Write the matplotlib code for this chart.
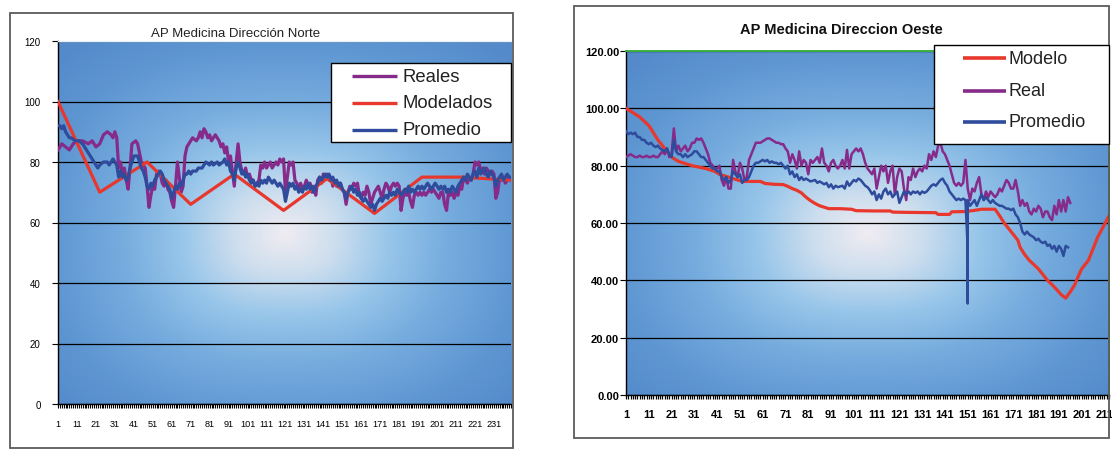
import matplotlib
matplotlib.use("Agg")
import matplotlib.pyplot as plt
import numpy as np
from matplotlib.colors import LinearSegmentedColormap
from matplotlib.lines import Line2D
from matplotlib.patches import Rectangle

plt.rcParams["font.family"] = ["Liberation Sans", "DejaVu Sans"]

W, H = 1112, 452

# ---- Norte: sample index -> value ----
norte_real_x = [
    1, 3, 5, 7, 9, 11, 14, 17, 19, 21, 23, 25, 27, 29, 30, 31, 32, 33, 34, 35,
    36, 37, 38, 39, 40, 42, 43, 44, 45, 46, 47, 48, 49, 50, 51, 52, 53, 54, 55, 56,
    57, 58, 59, 60, 61, 62, 63, 64, 65, 66, 67, 68, 69, 70, 71, 72, 74, 75, 76, 77,
    78, 79, 80, 81, 82, 83, 84, 85, 86, 87, 88, 89, 90, 91, 92, 93, 94, 95, 96, 97,
    98, 99, 100, 101, 102, 103, 104, 105, 106, 107, 108, 109, 110, 111, 112, 113, 114, 115, 116, 117,
    118, 119, 120, 121, 122, 123, 124, 125, 126, 127, 128, 129, 130, 131, 132, 133, 134, 135, 136, 137,
    138, 139, 140, 141, 142, 143, 144, 145, 146, 147, 148, 149, 150, 151, 152, 153, 154, 155, 156, 157,
    158, 159, 160, 161, 162, 163, 164, 165, 166, 167, 168, 169, 170, 171, 172, 173, 174, 175, 176, 177,
    178, 179, 180, 181, 182, 183, 184, 185, 186, 187, 188, 189, 190, 191, 192, 193, 194, 195, 196, 197,
    198, 199, 200, 201, 202, 203, 204, 205, 206, 207, 208, 209, 210, 211, 212, 213, 214, 215, 216, 217,
    218, 219, 220, 221, 222, 223, 224, 225, 226, 227, 228, 229, 230, 231, 232, 233, 234, 235, 236, 237,
    238, 239, 240,
]
norte_real = [
    84, 86, 85, 84, 86, 87, 87, 86, 87, 85, 86, 89, 90, 89, 88, 90, 88, 78, 80, 76,
    78, 74, 71, 78, 86, 87, 86, 83, 80, 79, 78, 72, 65, 69, 72, 71, 76, 77, 76, 73,
    72, 74, 71, 70, 67, 65, 72, 80, 75, 70, 72, 82, 85, 86, 87, 88, 87, 88, 90, 88,
    91, 90, 88, 89, 87, 88, 89, 88, 87, 85, 86, 83, 85, 80, 82, 77, 72, 80, 86, 80,
    77, 76, 78, 75, 76, 74, 74, 72, 73, 74, 79, 78, 80, 78, 79, 80, 78, 79, 80, 79,
    81, 80, 81, 70, 75, 80, 79, 80, 74, 73, 71, 73, 71, 72, 74, 72, 73, 70, 72, 69,
    74, 75, 73, 76, 75, 76, 74, 75, 72, 74, 72, 73, 73, 71, 70, 66, 70, 72, 71, 73,
    72, 73, 69, 68, 70, 69, 72, 70, 66, 68, 70, 71, 72, 70, 68, 71, 73, 72, 70, 72,
    73, 72, 73, 72, 64, 68, 70, 69, 70, 67, 65, 69, 70, 69, 70, 69, 70, 69, 70, 71,
    70, 71, 70, 69, 68, 70, 70, 66, 64, 70, 69, 70, 68, 70, 69, 72, 71, 75, 74, 73,
    75, 74, 76, 80, 79, 80, 77, 78, 76, 78, 77, 76, 77, 76, 68, 70, 75, 74, 75, 73,
    74, 75, 74,
]

norte_model_x = [1, 23, 48, 71, 94, 120, 143, 168, 193, 214, 240]
norte_model = [100, 70, 80, 66, 76, 64, 74.5, 63, 75, 75, 74]

norte_prom_x = [
    1, 2, 3, 4, 5, 6, 7, 8, 10, 12, 14, 16, 18, 20, 21, 22, 23, 25, 27, 28,
    29, 30, 31, 32, 33, 34, 35, 36, 37, 38, 39, 40, 41, 42, 43, 44, 45, 46, 47, 48,
    49, 50, 51, 52, 53, 54, 55, 56, 57, 58, 59, 60, 61, 62, 63, 64, 65, 66, 67, 68,
    69, 70, 71, 72, 74, 75, 77, 78, 79, 81, 82, 83, 85, 86, 88, 89, 90, 91, 92, 93,
    94, 95, 96, 97, 98, 99, 100, 101, 102, 103, 104, 105, 106, 107, 108, 109, 110, 111, 112, 113,
    114, 115, 116, 117, 118, 119, 120, 121, 122, 123, 124, 125, 126, 127, 128, 129, 130, 131, 132, 133,
    134, 135, 136, 137, 138, 139, 140, 141, 142, 143, 144, 145, 146, 147, 148, 149, 150, 151, 152, 153,
    154, 155, 156, 157, 158, 159, 160, 161, 162, 163, 164, 165, 166, 167, 168, 169, 170, 171, 172, 173,
    174, 175, 176, 177, 178, 179, 180, 181, 182, 183, 184, 185, 186, 187, 188, 189, 190, 191, 192, 193,
    194, 195, 196, 197, 198, 199, 200, 201, 202, 203, 204, 205, 206, 207, 208, 209, 210, 211, 212, 213,
    214, 215, 216, 217, 218, 219, 220, 221, 222, 223, 224, 225, 226, 227, 228, 229, 230, 231, 232, 233,
    234, 235, 236, 237, 238, 239, 240,
]
norte_prom = [
    92, 92, 91, 92, 90, 89, 88, 88, 87, 87, 86, 84, 82, 80, 79, 78, 79, 80, 80, 79,
    80, 81, 80, 79, 75, 77, 75, 76, 74, 75, 78, 80, 82, 82, 82, 80, 78, 77, 75, 72,
    71, 73, 72, 74, 75, 76, 77, 76, 74, 73, 72, 71, 68, 70, 72, 71, 73, 72, 74, 76,
    76, 77, 76, 77, 77, 78, 78, 79, 80, 79, 80, 79, 80, 79, 80, 81, 79, 80, 77, 76,
    74, 78, 80, 78, 76, 77, 75, 76, 74, 73, 74, 72, 73, 72, 74, 73, 74, 73, 75, 74,
    73, 74, 73, 72, 73, 72, 71, 67, 70, 73, 72, 73, 71, 72, 70, 71, 70, 72, 71, 73,
    71, 72, 70, 72, 73, 75, 74, 75, 76, 75, 76, 74, 75, 73, 74, 72, 73, 71, 70, 68,
    70, 71, 72, 70, 71, 69, 70, 68, 67, 68, 67, 66, 65, 66, 64, 66, 67, 68, 67, 68,
    69, 68, 70, 69, 70, 69, 71, 70, 69, 70, 71, 70, 72, 70, 71, 70, 71, 72, 71, 72,
    71, 72, 73, 72, 71, 72, 73, 72, 71, 72, 71, 72, 70, 71, 70, 72, 71, 70, 72, 73,
    74, 75, 74, 76, 75, 74, 76, 77, 75, 78, 76, 77, 78, 76, 75, 77, 76, 75, 72, 74,
    75, 76, 74, 75, 76, 75, 75,
]

# ---- Oeste ----
oeste_model_x = [
    1, 3, 5, 7, 9, 11, 13, 15, 17, 19, 21, 22, 24, 26, 28, 30, 33, 36, 38, 40,
    42, 44, 46, 48, 50, 52, 56, 60, 62, 66, 70, 72, 74, 76, 78, 80, 82, 84, 86, 88,
    90, 95, 100, 102, 110, 117, 118, 125, 137, 138, 143, 144, 150, 154, 157, 163, 165, 167, 169, 171,
    173, 174, 176, 178, 180, 182, 184, 186, 188, 190, 192, 194, 196, 198, 199, 201, 203, 204, 205, 207,
    208, 210, 212, 213,
]
oeste_model = [
    100, 99, 98, 97, 95.5, 94, 91.5, 89, 87, 85, 83, 82.5, 81.5, 81, 80.5, 80, 79.5, 79, 78.5, 78,
    77, 76.5, 76, 75.5, 75, 74.5, 74.5, 74.5, 73.8, 73.5, 73.4, 72.8, 72, 71.4, 70.5, 69, 67.8, 66.8, 66, 65.5,
    65, 65, 64.8, 64.3, 64.2, 64.2, 63.8, 63.7, 63.6, 63, 63, 63.9, 64, 64.4, 64.8, 64.8, 62.5, 60, 58, 56,
    54, 51.5, 49, 47, 45.5, 44, 42, 40, 38.5, 36.8, 35, 33.8, 36, 38.5, 40.5, 44, 46, 47, 49, 53,
    55, 58, 61, 62.5,
]

oeste_real_x = list(range(1, 197))
oeste_real = [
    83, 83.5, 84, 83.5, 83, 83, 83.5, 83, 83, 83.5, 83, 83, 83.5, 83, 83, 84, 85, 84, 86, 83,
    84, 93, 85, 87, 85, 86, 87, 85, 86, 88, 88, 89.5, 89, 89.5, 88, 86, 84, 81, 80, 79,
    79, 80, 75, 73, 76, 72, 72, 82, 78, 76, 81, 79, 75, 76, 82, 84, 86, 88, 88, 88,
    88.5, 89, 89.5, 89.5, 89, 88.5, 88, 88, 87.5, 87.5, 86, 85, 81, 84, 82, 79, 85, 80, 82, 81,
    77, 82, 81, 82, 83, 81, 86, 81, 80, 78, 81, 82, 80, 79, 80, 82, 79, 85.5, 79, 84,
    85, 86, 85, 86, 84, 81, 79, 78, 77, 79, 72, 76, 80, 78, 80, 74, 78, 80, 70, 76,
    79, 78, 72, 68, 76, 75, 79, 76, 78, 79, 78, 80, 79, 84, 82, 85, 83, 87, 88, 85,
    84, 82, 80, 77, 74, 73, 74, 73, 74, 82, 72, 68, 72, 71, 74, 76, 70, 68, 71, 69,
    71, 70, 69, 70, 72, 71, 73, 75, 74, 72, 72, 75, 71, 66, 68, 66, 67, 64, 63, 65,
    64, 66, 65, 62, 64, 64, 62, 61, 66, 63, 68, 64, 68, 64, 69, 67,
]

oeste_prom_x = [
    1, 2, 3, 4, 5, 6, 7, 8, 9, 10, 11, 12, 13, 14, 15, 16, 17, 18, 19, 20,
    21, 22, 23, 24, 25, 26, 27, 28, 29, 30, 31, 32, 33, 34, 35, 36, 37, 38, 39, 40,
    41, 42, 43, 44, 45, 46, 47, 48, 49, 50, 51, 52, 53, 54, 55, 56, 57, 58, 59, 60,
    61, 62, 63, 64, 65, 66, 67, 68, 69, 70, 71, 72, 73, 74, 75, 76, 77, 78, 79, 80,
    82, 84, 85, 86, 88, 89, 90, 91, 92, 93, 94, 96, 97, 98, 99, 100, 101, 102, 103, 104,
    105, 106, 107, 108, 109, 110, 111, 112, 113, 114, 115, 116, 117, 118, 119, 120, 121, 122, 123, 124,
    125, 126, 127, 128, 129, 130, 131, 132, 133, 134, 135, 136, 137, 138, 139, 140, 141, 142, 143, 144,
    145, 146, 147, 148, 149, 150, 151, 151, 151, 151, 152, 153, 154, 155, 156, 157, 158, 159, 160, 161,
    162, 163, 164, 165, 166, 167, 168, 169, 170, 171, 172, 173, 174, 175, 176, 177, 178, 179, 180, 181,
    182, 183, 184, 185, 186, 187, 188, 189, 190, 191, 192, 193, 194, 195,
]
oeste_prom = [
    92, 91, 91.5, 91, 91.5, 90, 90, 89, 89, 88, 87.5, 88, 87, 86.5, 87, 86, 85.5, 85, 86, 84,
    83, 89, 85, 84, 84, 83, 84, 83, 83.5, 84, 85, 85, 84, 83, 83, 82, 81, 80, 79, 79,
    78, 78, 76, 75, 76, 74, 75, 78, 77, 76, 77, 74, 75, 75, 76, 78, 80, 81, 81, 81.5,
    82, 81.5, 82, 81, 81.5, 81, 81, 80.5, 81, 80, 79, 80, 77, 78, 76, 77, 75, 76, 75, 75.5,
    74.5, 75, 74, 74.5, 73.5, 74, 72.5, 73.5, 72, 73, 72.5, 73, 72, 74.5, 73, 74, 75, 74.5, 75.5, 75,
    74, 73, 72.5, 71.5, 70, 71, 68, 70, 68.5, 71, 72, 70, 71, 69, 70, 71, 67, 69, 71, 70,
    71, 70, 71, 70.5, 71, 70, 71, 70.5, 71, 72, 73, 73.5, 73, 74, 75, 75.5, 74, 73, 71, 70,
    69, 68, 68.5, 68, 68.5, 68, 51, 32, 51, 68, 66, 67, 68, 66, 68, 70, 68, 69, 68, 67,
    68, 67, 66.5, 66, 66, 65.5, 65, 65, 64.5, 65, 63, 62, 60, 57, 56, 57, 56, 55.5, 55, 54,
    54.5, 53.5, 53, 53.5, 52, 52.5, 51, 52, 50, 52, 51, 48.5, 52, 51.5,
]

PURPLE = "#862b8a"
RED = "#e8372c"
BLUE = "#2e4b9c"
GREEN = "#3cb043"

bg_cmap = LinearSegmentedColormap.from_list("bg", [
    (0.00, (240 / 255, 236 / 255, 242 / 255)),
    (0.17, (205 / 255, 222 / 255, 238 / 255)),
    (0.35, (152 / 255, 198 / 255, 234 / 255)),
    (0.55, (118 / 255, 172 / 255, 222 / 255)),
    (0.80, (94 / 255, 150 / 255, 210 / 255)),
    (1.00, (84 / 255, 138 / 255, 202 / 255)),
])


def box(l, t, r, b):
    return [l / W, 1 - b / H, (r - l) / W, (b - t) / H]


def gradient(ax, cx=0.5, cy=0.47):
    X, Y = np.meshgrid(np.linspace(0, 1, 400), np.linspace(0, 1, 300))
    p = 2.5
    r = ((np.abs(X - cx) / 0.5) ** p + (np.abs(Y - cy) / 0.5) ** p) ** (1 / p)
    ax.imshow(r, cmap=bg_cmap, vmin=0, vmax=1.3, extent=[0, 1, 0, 1], origin="lower",
              transform=ax.transAxes, aspect="auto", zorder=0, interpolation="bilinear")


def frame(fig, l, t, r, b):
    fig.add_artist(Rectangle((l / W, 1 - b / H), (r - l) / W, (b - t) / H,
                             transform=fig.transFigure, facecolor="none",
                             edgecolor="#5a5a5a", lw=1.3, zorder=0.5))


def legend(fig, l, t, r, b, rows, hx0, hx1, tx, fs, lw, weight="normal"):
    fig.add_artist(Rectangle((l / W, 1 - b / H), (r - l) / W, (b - t) / H,
                             transform=fig.transFigure, facecolor="white",
                             edgecolor="black", lw=1.0, zorder=5))
    for label, color, y in rows:
        fig.add_artist(Line2D([hx0 / W, hx1 / W], [1 - y / H, 1 - y / H],
                              transform=fig.transFigure, color=color, lw=lw,
                              solid_capstyle="butt", zorder=6))
        fig.text(tx / W, 1 - y / H, label, fontsize=fs, va="center", ha="left",
                 color="#222222", zorder=6, weight=weight)


fig = plt.figure(figsize=(W / 100, H / 100), dpi=100)
fig.patch.set_facecolor("white")

# ---------- left: Norte ----------
frame(fig, 10, 14, 513, 449)
ax1 = fig.add_axes(box(58, 42, 511, 405))
gradient(ax1)
ax1.plot(norte_real_x, norte_real, color=PURPLE, lw=2.3, zorder=3)
ax1.plot(norte_model_x, norte_model, color=RED, lw=2.3, zorder=3)
ax1.plot(norte_prom_x, norte_prom, color=BLUE, lw=2.3, zorder=3)
ax1.set_xlim(1, 240)
ax1.set_ylim(0, 120)
ax1.set_yticks(range(0, 121, 20))
ax1.set_xticks(range(1, 232, 10))
ax1.set_xticks(range(1, 241), minor=True)
ax1.yaxis.grid(True, color="black", lw=0.9)
ax1.tick_params(axis="y", length=4, width=0.8, pad=8.5, labelsize=7)
ax1.tick_params(axis="x", which="both", length=3, width=0.8, pad=8, labelsize=6.6)
for s in ("left", "bottom"):
    ax1.spines[s].set_color("black")
    ax1.spines[s].set_linewidth(1.0)
ax1.spines["right"].set_visible(False)
ax1.spines["top"].set_color("#e8f0f8")
ax1.spines["top"].set_linestyle((0, (1, 1)))
ax1.spines["top"].set_linewidth(1.0)
fig.text(236 / W, 1 - 34 / H, "AP Medicina Dirección Norte", fontsize=9.5,
         ha="center", va="center", color="#222222")
legend(fig, 331, 64, 511, 143,
       [("Reales", PURPLE, 77), ("Modelados", RED, 104), ("Promedio", BLUE, 131)],
       352, 397, 403, 13.3, 2.4)

# ---------- right: Oeste ----------
frame(fig, 574, 7, 1109, 439)
ax2 = fig.add_axes(box(626, 52, 1109, 396))
gradient(ax2)
ax2.plot(oeste_model_x, oeste_model, color=RED, lw=2.3, zorder=3)
ax2.plot(oeste_real_x, oeste_real, color=PURPLE, lw=1.8, zorder=3)
ax2.plot(oeste_prom_x, oeste_prom, color=BLUE, lw=1.8, zorder=3)
ax2.set_xlim(1, 213)
ax2.set_ylim(0, 120)
ax2.set_yticks(range(0, 121, 20))
ax2.set_yticklabels([f"{v:.2f}" for v in range(0, 121, 20)])
ax2.set_xticks(range(1, 212, 10))
ax2.set_xticks(range(1, 214), minor=True)
ax2.yaxis.grid(True, color="black", lw=0.9)
ax2.tick_params(axis="y", length=4, width=0.8, pad=1, labelsize=8)
ax2.tick_params(axis="x", which="both", length=3, width=0.9, pad=7, labelsize=8)
for lab in ax2.get_xticklabels() + ax2.get_yticklabels():
    lab.set_fontweight("bold")
for s in ("left", "bottom"):
    ax2.spines[s].set_color("black")
    ax2.spines[s].set_linewidth(1.0)
for s in ("top", "right"):
    ax2.spines[s].set_color(GREEN)
    ax2.spines[s].set_linewidth(1.4)
fig.text(841 / W, 1 - 30 / H, "AP Medicina Direccion Oeste", fontsize=10.5,
         ha="center", va="center", weight="bold", color="#111111")
legend(fig, 934, 46, 1109, 145,
       [("Modelo", RED, 59), ("Real", PURPLE, 92), ("Promedio", BLUE, 123)],
       963, 1006, 1009, 13, 2.6)

fig.savefig("out.png", dpi=100)
